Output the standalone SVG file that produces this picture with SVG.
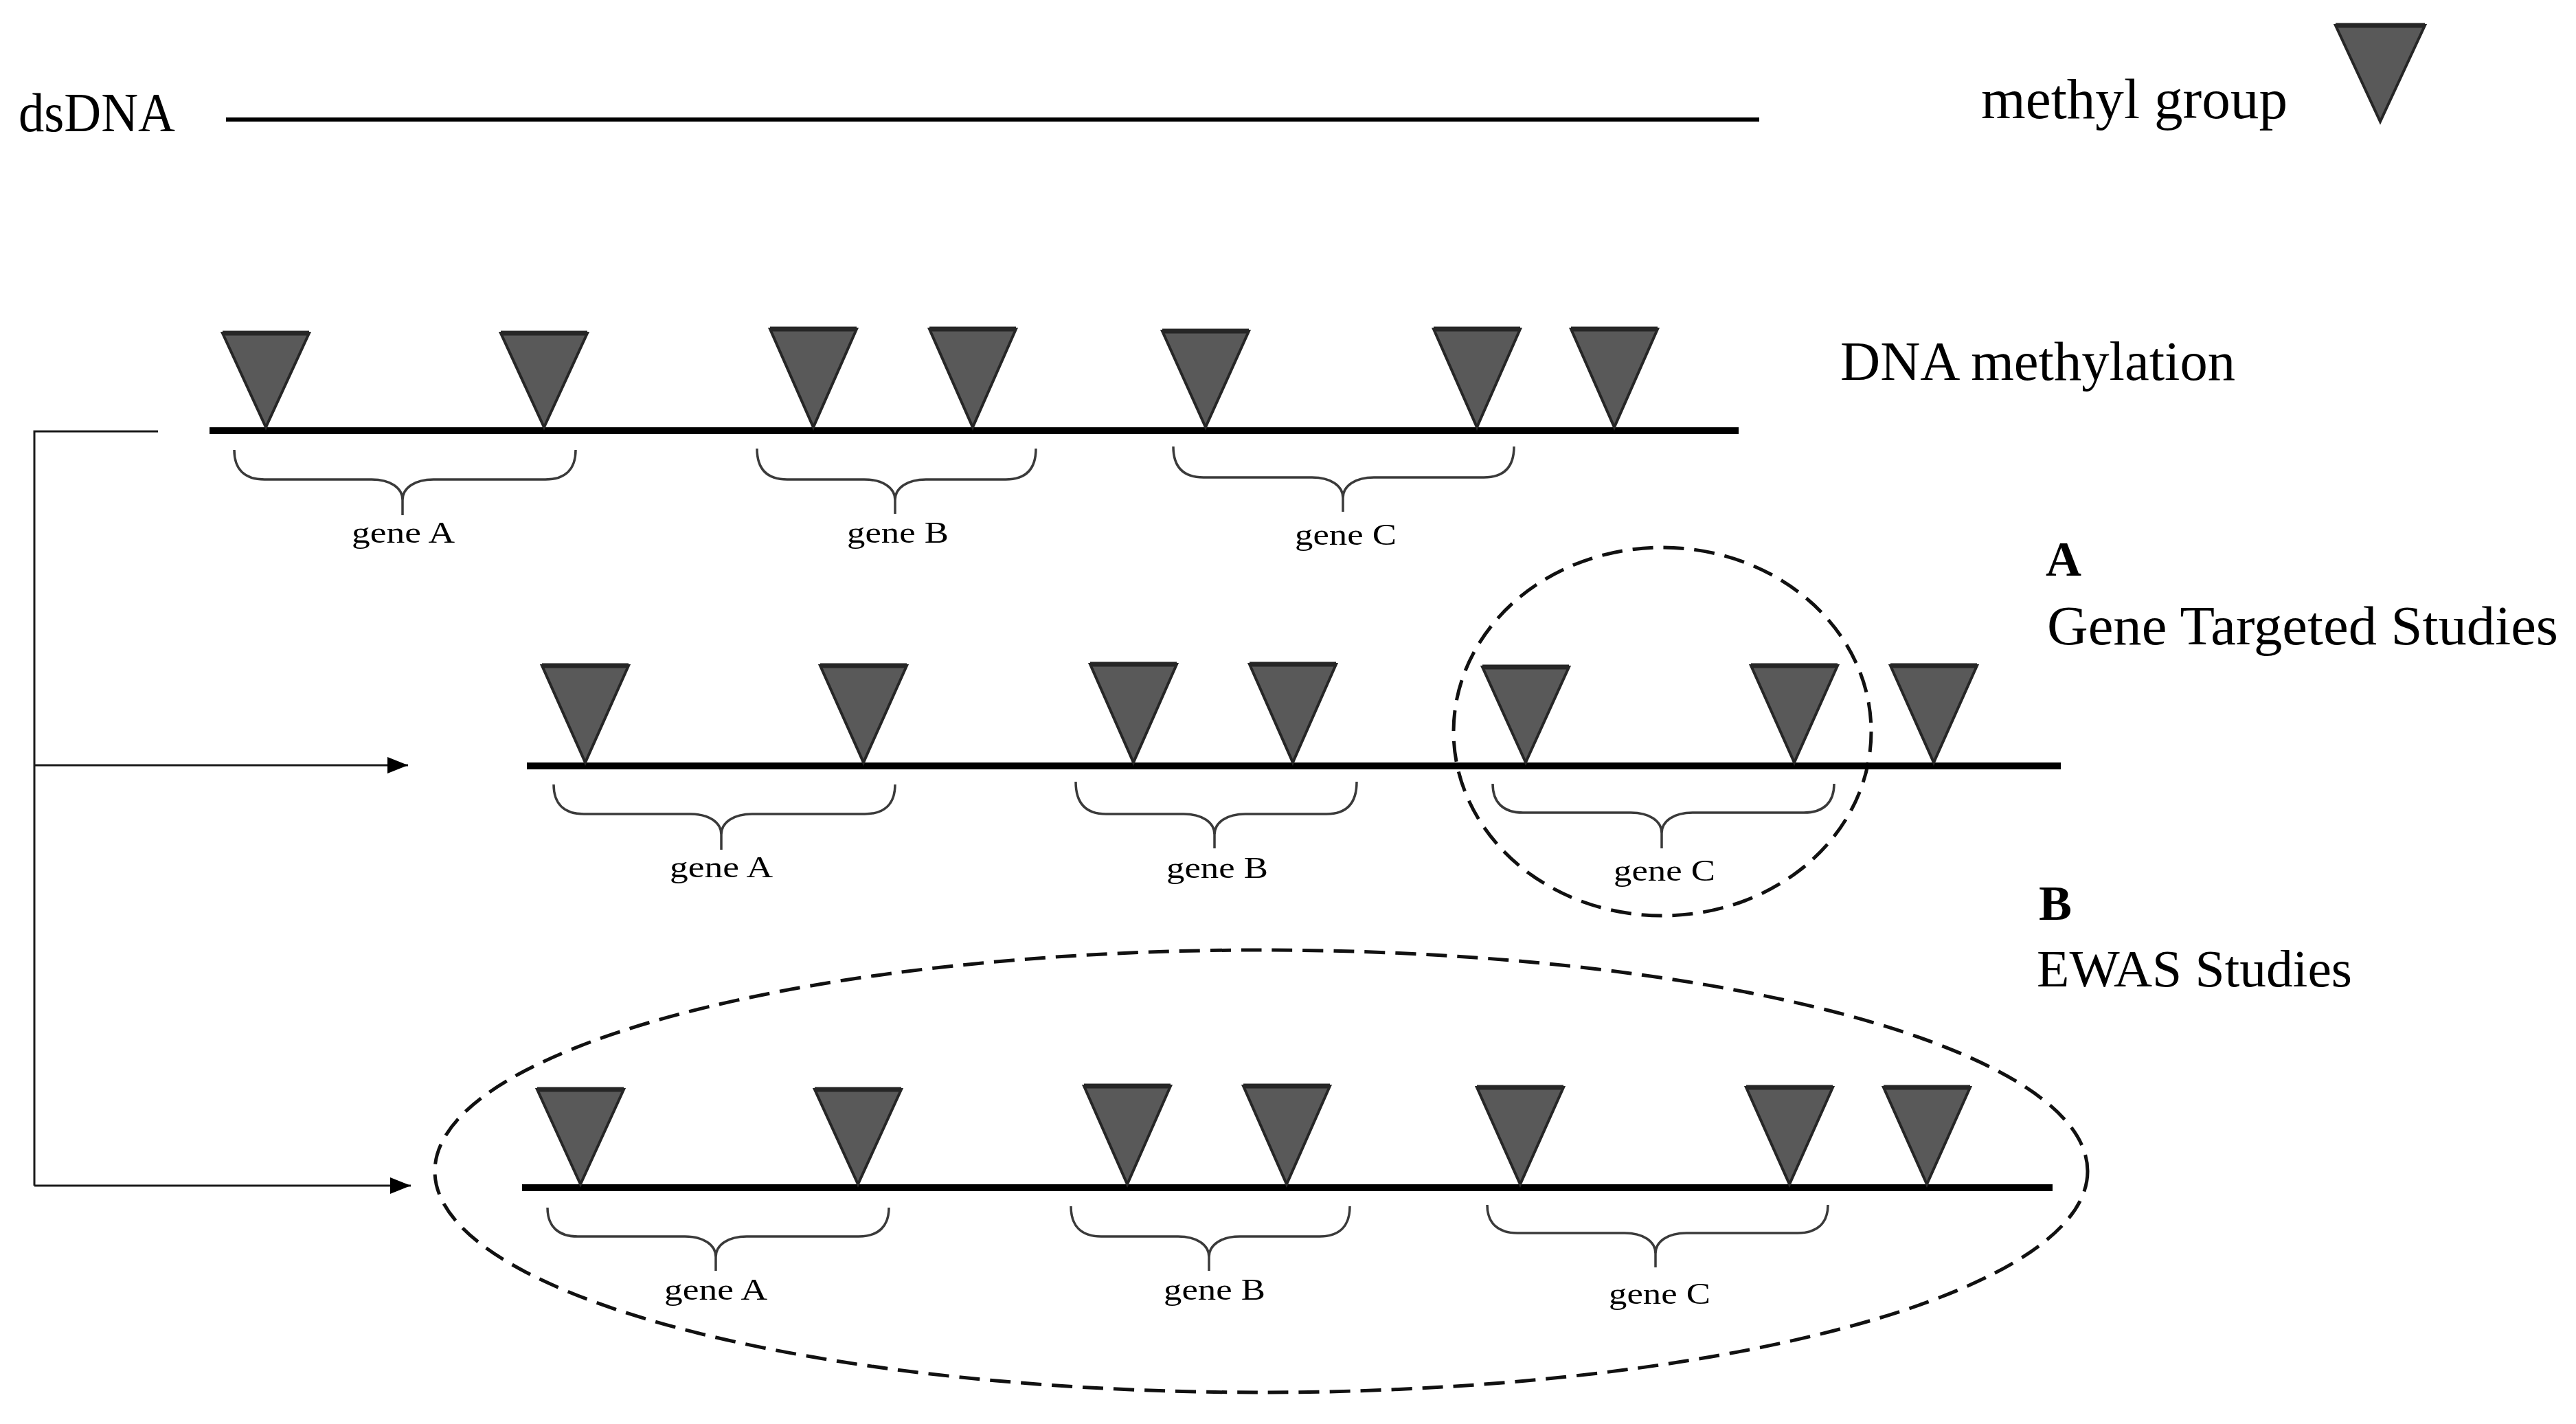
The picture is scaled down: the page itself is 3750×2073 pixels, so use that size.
<svg xmlns="http://www.w3.org/2000/svg" width="3750" height="2073" viewBox="0 0 3750 2073">
<style>
text{font-family:"Liberation Serif","Times New Roman",serif;fill:#000}
.lbl{font-size:80px}
.gene{font-size:44px}
.bold{font-size:72px;font-weight:bold}
.strand{stroke:#000;stroke-width:10;fill:none}
.tri{fill:#595959;stroke:#262626;stroke-width:4;stroke-linejoin:miter}
.cap{stroke:#262626;stroke-width:7}
.brace{fill:none;stroke:#3a3a3a;stroke-width:3.5}
.dash{fill:none;stroke:#111;stroke-width:5;stroke-dasharray:30 15}
.conn{fill:none;stroke:#1a1a1a;stroke-width:3}
</style>
<defs>
<marker id="arr" markerUnits="userSpaceOnUse" markerWidth="32" markerHeight="26" refX="30" refY="12" orient="auto">
<path d="M0,0 L30,12 L0,24 Z" fill="#000"/>
</marker>
</defs>
<rect width="3750" height="2073" fill="#fff"/>

<g id="legend">
<text class="lbl" x="27" y="191" textLength="228" lengthAdjust="spacingAndGlyphs">dsDNA</text>
<line x1="329" y1="174" x2="2561" y2="174" stroke="#000" stroke-width="6"/>
<text x="2884" y="172" style="font-size:83px" textLength="446" lengthAdjust="spacingAndGlyphs">methyl group</text>
<polygon class="tri" points="3400,37 3530,37 3465,177"/>
<line class="cap" x1="3400" y1="37" x2="3530" y2="37"/>
</g>

<g id="row1">
<line class="strand" x1="305" y1="627" x2="2531" y2="627"/>
<polygon class="tri" points="324,485 450,485 387,622"/>
<polygon class="tri" points="729,485 855,485 792,622"/>
<polygon class="tri" points="1121,479 1247,479 1184,622"/>
<polygon class="tri" points="1353,479 1479,479 1416,622"/>
<polygon class="tri" points="1692,482 1818,482 1755,622"/>
<polygon class="tri" points="2087,479 2213,479 2150,622"/>
<polygon class="tri" points="2287,479 2413,479 2350,622"/>
<g class="cap">
<line x1="324" y1="485" x2="450" y2="485"/><line x1="729" y1="485" x2="855" y2="485"/>
<line x1="1121" y1="479" x2="1247" y2="479"/><line x1="1353" y1="479" x2="1479" y2="479"/>
<line x1="1692" y1="482" x2="1818" y2="482"/><line x1="2087" y1="479" x2="2213" y2="479"/>
<line x1="2287" y1="479" x2="2413" y2="479"/>
</g>
<path class="brace" d="M341,655 C341,683 356,698 385,698 L541,698 C568,698 586,710 586,728 L586,750 M586,728 C586,710 604,698 631,698 L794,698 C823,698 838,683 838,655"/>
<path class="brace" d="M1102,653 C1102,683 1117,698 1146,698 L1258,698 C1285,698 1303,710 1303,728 L1303,748 M1303,728 C1303,710 1321,698 1348,698 L1464,698 C1493,698 1508,683 1508,653"/>
<path class="brace" d="M1708,650 C1708,680 1723,695 1752,695 L1910,695 C1937,695 1955,707 1955,725 L1955,745 M1955,725 C1955,707 1973,695 2000,695 L2160,695 C2189,695 2204,680 2204,650"/>
<text class="gene" x="512" y="790" textLength="150" lengthAdjust="spacingAndGlyphs">gene A</text>
<text class="gene" x="1233" y="790" textLength="148" lengthAdjust="spacingAndGlyphs">gene B</text>
<text class="gene" x="1885" y="793" textLength="148" lengthAdjust="spacingAndGlyphs">gene C</text>
<text class="lbl" x="2679" y="553" textLength="575" lengthAdjust="spacingAndGlyphs">DNA methylation</text>
</g>

<g id="row2">
<ellipse class="dash" cx="2420" cy="1065" rx="304" ry="268"/>
<line class="strand" x1="767" y1="1115" x2="3000" y2="1115"/>
<polygon class="tri" points="789,969 915,969 852,1110"/>
<polygon class="tri" points="1194,969 1320,969 1257,1110"/>
<polygon class="tri" points="1587,967 1713,967 1650,1110"/>
<polygon class="tri" points="1819,967 1945,967 1882,1110"/>
<polygon class="tri" points="2158,971 2284,971 2221,1110"/>
<polygon class="tri" points="2549,969 2675,969 2612,1110"/>
<polygon class="tri" points="2752,969 2878,969 2815,1110"/>
<g class="cap">
<line x1="789" y1="969" x2="915" y2="969"/><line x1="1194" y1="969" x2="1320" y2="969"/>
<line x1="1587" y1="967" x2="1713" y2="967"/><line x1="1819" y1="967" x2="1945" y2="967"/>
<line x1="2158" y1="971" x2="2284" y2="971"/><line x1="2549" y1="969" x2="2675" y2="969"/>
<line x1="2752" y1="969" x2="2878" y2="969"/>
</g>
<path class="brace" d="M806,1142 C806,1170 821,1185 850,1185 L1005,1185 C1032,1185 1050,1197 1050,1215 L1050,1237 M1050,1215 C1050,1197 1068,1185 1095,1185 L1259,1185 C1288,1185 1303,1170 1303,1142"/>
<path class="brace" d="M1566,1138 C1566,1170 1581,1185 1610,1185 L1723,1185 C1750,1185 1768,1197 1768,1215 L1768,1235 M1768,1215 C1768,1197 1786,1185 1813,1185 L1931,1185 C1960,1185 1975,1170 1975,1138"/>
<path class="brace" d="M2173,1141 C2173,1168 2188,1183 2217,1183 L2374,1183 C2401,1183 2419,1195 2419,1213 L2419,1235 M2419,1213 C2419,1195 2437,1183 2464,1183 L2626,1183 C2655,1183 2670,1168 2670,1141"/>
<text class="gene" x="975" y="1277" textLength="150" lengthAdjust="spacingAndGlyphs">gene A</text>
<text class="gene" x="1698" y="1278" textLength="148" lengthAdjust="spacingAndGlyphs">gene B</text>
<text class="gene" x="2349" y="1282" textLength="148" lengthAdjust="spacingAndGlyphs">gene C</text>
<text class="bold" x="2978" y="838">A</text>
<text class="lbl" x="2980" y="938" textLength="744" lengthAdjust="spacingAndGlyphs">Gene Targeted Studies</text>
</g>

<g id="row3">
<ellipse class="dash" cx="1836" cy="1705" rx="1203" ry="322"/>
<line class="strand" x1="760" y1="1729" x2="2988" y2="1729"/>
<polygon class="tri" points="782,1586 908,1586 845,1724"/>
<polygon class="tri" points="1186,1586 1312,1586 1249,1724"/>
<polygon class="tri" points="1578,1581 1704,1581 1641,1724"/>
<polygon class="tri" points="1810,1581 1936,1581 1873,1724"/>
<polygon class="tri" points="2150,1583 2276,1583 2213,1724"/>
<polygon class="tri" points="2542,1583 2668,1583 2605,1724"/>
<polygon class="tri" points="2742,1583 2868,1583 2805,1724"/>
<g class="cap">
<line x1="782" y1="1586" x2="908" y2="1586"/><line x1="1186" y1="1586" x2="1312" y2="1586"/>
<line x1="1578" y1="1581" x2="1704" y2="1581"/><line x1="1810" y1="1581" x2="1936" y2="1581"/>
<line x1="2150" y1="1583" x2="2276" y2="1583"/><line x1="2542" y1="1583" x2="2668" y2="1583"/>
<line x1="2742" y1="1583" x2="2868" y2="1583"/>
</g>
<path class="brace" d="M797,1758 C797,1785 812,1800 841,1800 L997,1800 C1024,1800 1042,1812 1042,1830 L1042,1850 M1042,1830 C1042,1812 1060,1800 1087,1800 L1250,1800 C1279,1800 1294,1785 1294,1758"/>
<path class="brace" d="M1559,1756 C1559,1785 1574,1800 1603,1800 L1715,1800 C1742,1800 1760,1812 1760,1830 L1760,1850 M1760,1830 C1760,1812 1778,1800 1805,1800 L1921,1800 C1950,1800 1965,1785 1965,1756"/>
<path class="brace" d="M2165,1754 C2165,1780 2180,1795 2209,1795 L2365,1795 C2392,1795 2410,1807 2410,1825 L2410,1845 M2410,1825 C2410,1807 2428,1795 2455,1795 L2617,1795 C2646,1795 2661,1780 2661,1754"/>
<text class="gene" x="967" y="1892" textLength="150" lengthAdjust="spacingAndGlyphs">gene A</text>
<text class="gene" x="1694" y="1892" textLength="148" lengthAdjust="spacingAndGlyphs">gene B</text>
<text class="gene" x="2342" y="1898" textLength="148" lengthAdjust="spacingAndGlyphs">gene C</text>
<text class="bold" x="2968" y="1339">B</text>
<text x="2965" y="1436" style="font-size:77px" textLength="459" lengthAdjust="spacingAndGlyphs">EWAS Studies</text>
</g>

<g id="connectors">
<polyline class="conn" points="230,628 50,628 50,1726"/>
<line class="conn" x1="50" y1="1114" x2="594" y2="1114" marker-end="url(#arr)"/>
<line class="conn" x1="50" y1="1726" x2="598" y2="1726" marker-end="url(#arr)"/>
</g>
</svg>
